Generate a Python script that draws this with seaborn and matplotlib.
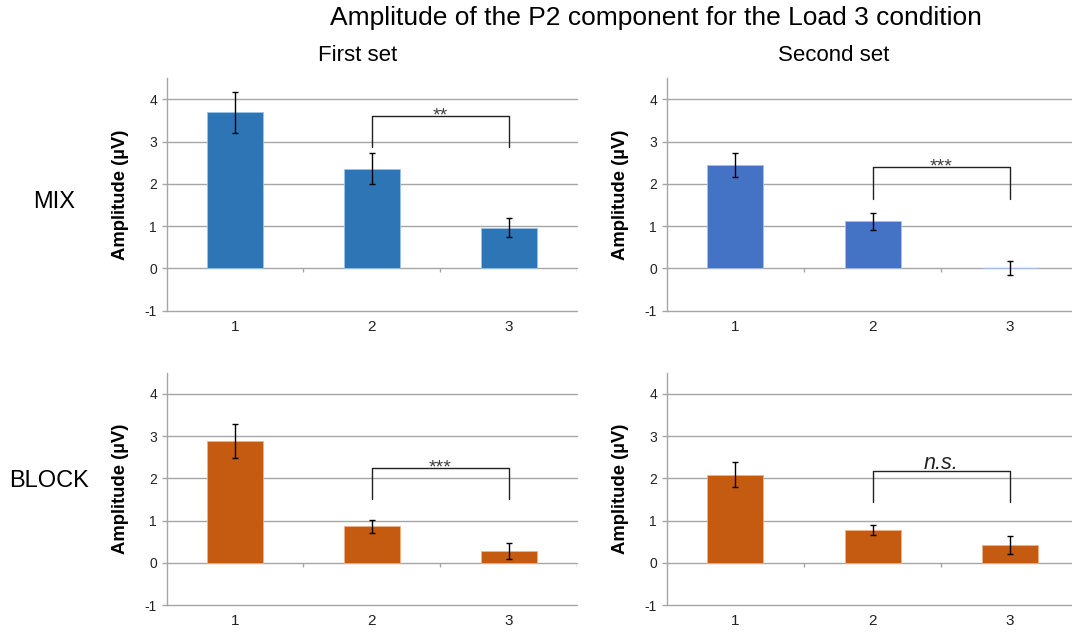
import matplotlib
matplotlib.use("Agg")
import matplotlib.pyplot as plt
import seaborn as sns

sns.set_theme(style="white")
plt.rcParams["font.family"] = ["Liberation Sans", "DejaVu Sans"]

# Conditions on the x axis
conditions = ["1", "2", "3"]

# Mean P2 amplitude (µV) and standard errors per block type and set
mix_first = [3.69, 2.36, 0.96]
mix_first_se = [0.48, 0.36, 0.22]
mix_second = [2.45, 1.11, 0.01]
mix_second_se = [0.29, 0.21, 0.17]
block_first = [2.89, 0.86, 0.29]
block_first_se = [0.40, 0.16, 0.19]
block_second = [2.09, 0.77, 0.42]
block_second_se = [0.29, 0.12, 0.22]

# Significance brackets between conditions 2 and 3: (top, leg end, label)
sig_mix_first = (3.61, 2.87, "**")
sig_mix_second = (2.39, 1.65, "***")
sig_block_first = (2.24, 1.51, "***")
sig_block_second = (2.18, 1.45, "n.s.")

y_ticks = [-1, 0, 1, 2, 3, 4]

GRID = "#A6A6A6"

fig = plt.figure(figsize=(10.72, 6.34), dpi=100)

panels = [
    # left, bottom, width, height, values, se, colour, bar edge, bracket
    (0.1555, 0.5099, 0.3827, 0.367, mix_first, mix_first_se, "#2E75B6", "#9DC3E6", sig_mix_first),
    (0.6219, 0.5099, 0.3843, 0.367, mix_second, mix_second_se, "#4472C4", "#A9BEE6", sig_mix_second),
    (0.1555, 0.0457, 0.3827, 0.3664, block_first, block_first_se, "#C55A11", "#F4B183", sig_block_first),
    (0.6219, 0.0457, 0.3843, 0.3664, block_second, block_second_se, "#C55A11", "#F4B183", sig_block_second),
]

for left, bottom, width, height, vals, se, col, edge, sig in panels:
    ax = fig.add_axes([left, bottom, width, height])
    sns.barplot(x=conditions, y=vals, color=col, width=0.41, errorbar=None,
                edgecolor=edge, linewidth=0.6, saturation=1, ax=ax, zorder=3)
    ax.errorbar(range(len(conditions)), vals, yerr=se, fmt="none",
                ecolor="black", elinewidth=1.0, capsize=2.5, capthick=1.0, zorder=4)

    ax.set_xlim(-0.5, 2.5)
    ax.set_ylim(-1, 4.5)
    ax.set_yticks(y_ticks)
    ax.set_yticklabels([str(t) for t in y_ticks])
    for t in y_ticks:
        ax.axhline(t, color=GRID, lw=1.0, zorder=1, clip_on=False)
    # category axis crossing at zero with tick marks between categories
    ax.vlines([0.5, 1.5, 2.5], -0.09, 0, color=GRID, lw=1.0, zorder=1)

    for s in ["top", "right", "bottom"]:
        ax.spines[s].set_visible(False)
    ax.spines["left"].set_color(GRID)
    ax.spines["left"].set_linewidth(1.0)
    ax.tick_params(axis="y", length=3.5, width=1.0, color=GRID, labelsize=10,
                   labelcolor="#222222", pad=3.5, left=True)
    ax.tick_params(axis="x", length=0, labelsize=11, labelcolor="#222222", pad=6.5)
    ax.set_xlabel("")
    ax.set_ylabel("Amplitude (µV)", fontsize=13.3, fontweight="bold", color="black")
    ax.yaxis.set_label_coords(-0.092, 0.5)

    top, leg, label = sig
    ax.plot([1, 1, 2, 2], [leg, top, top, leg], color="#222222", lw=1.0, zorder=5)
    if label == "n.s.":
        ax.text(1.5, top + 0.03, label, ha="center", va="baseline", fontsize=15.5,
                style="italic", color="#222222")
    else:
        ax.text(1.5, top - 0.11, label, ha="center", va="baseline", fontsize=14,
                color="#404040")

fig.text(0.612, 0.972, "Amplitude of the P2 component for the Load 3 condition",
         ha="center", va="center", fontsize=19, color="black")
fig.text(0.3337, 0.912, "First set", ha="center", va="center", fontsize=16, color="black")
fig.text(0.778, 0.912, "Second set", ha="center", va="center", fontsize=16, color="black")
fig.text(0.0504, 0.682, "MIX", ha="center", va="center", fontsize=17, color="black")
fig.text(0.046, 0.241, "BLOCK", ha="center", va="center", fontsize=17, color="black")

fig.savefig("out.png", dpi=100)
